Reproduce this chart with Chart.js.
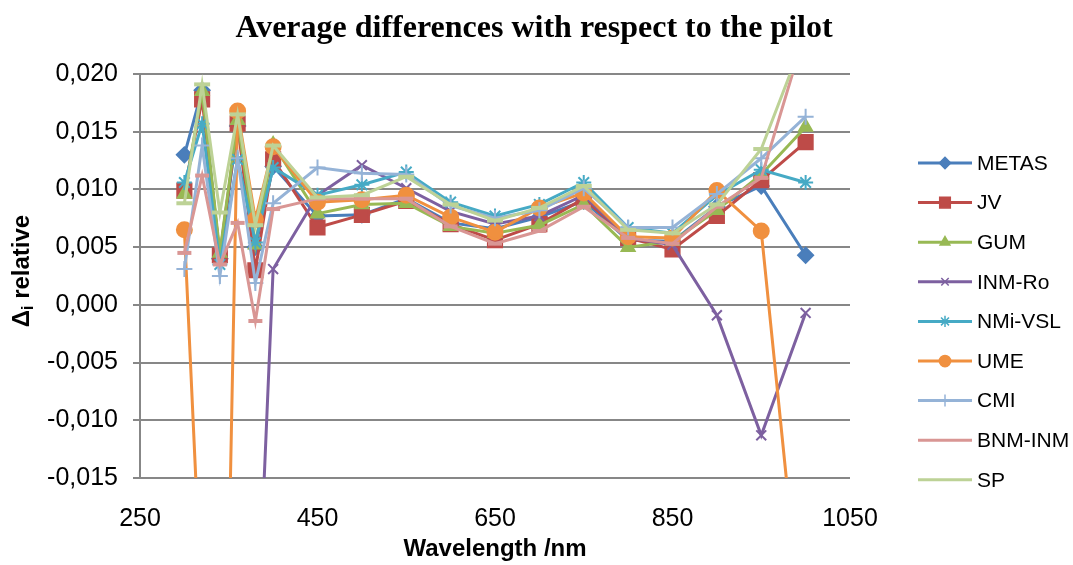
<!DOCTYPE html>
<html>
<head>
<meta charset="utf-8">
<script src="https://cdn.jsdelivr.net/npm/chart.js@4.4.0/dist/chart.umd.min.js"></script>
<style>
  html, body { margin: 0; padding: 0; background: #fff; }
</style>
</head>
<body>
<canvas id="chart" width="1073" height="565"></canvas>
<script>
// wavelengths (nm) of the measurement points
const wavelengths = [300, 320, 340, 360, 380, 400, 450, 500, 550, 600, 650, 700, 750, 800, 850, 900, 950, 1000];

// relative differences
const metas  = [0.0130, 0.0186, 0.0040, 0.0155, 0.0050, 0.0120, 0.0077, 0.0078, 0.0092, 0.0071, 0.0066, 0.0076, 0.0090, 0.0056, 0.0055, 0.0085, 0.0103, 0.0043];
const jv     = [0.0099, 0.0178, 0.0043, 0.0157, 0.0030, 0.0126, 0.0067, 0.0078, 0.0090, 0.0070, 0.0056, 0.0070, 0.0092, 0.0058, 0.0048, 0.0077, 0.0108, 0.0141];
const gum    = [0.0096, 0.0185, 0.0045, 0.0160, 0.0052, 0.0139, 0.0079, 0.0087, 0.0088, 0.0068, 0.0062, 0.0069, 0.0087, 0.0050, 0.0055, 0.0082, 0.0113, 0.0154];
const inmRo  = [null, null, null, null, -0.0330, 0.0031, 0.0095, 0.0121, 0.0101, 0.0081, 0.0070, 0.0077, 0.0095, 0.0058, 0.0052, -0.0009, -0.0113, -0.0007];
const nmiVsl = [0.0106, 0.0157, 0.0035, 0.0126, 0.0054, 0.0119, 0.0095, 0.0104, 0.0115, 0.0089, 0.0077, 0.0087, 0.0106, 0.0067, 0.0062, 0.0095, 0.0117, 0.0106];
const ume    = [0.0065, -0.0270, -0.0620, 0.0168, 0.0074, 0.0137, 0.0089, 0.0091, 0.0095, 0.0076, 0.0063, 0.0084, 0.0097, 0.0059, 0.0058, 0.0099, 0.0064, -0.0315];
const cmi    = [0.0031, 0.0138, 0.0025, 0.0127, 0.0019, 0.0088, 0.0119, 0.0114, 0.0113, 0.0086, 0.0075, 0.0082, 0.0101, 0.0067, 0.0067, 0.0096, 0.0127, 0.0163];
const bnmInm = [0.0045, 0.0112, 0.0035, 0.0071, -0.0014, 0.0083, 0.0092, 0.0092, 0.0092, 0.0068, 0.0053, 0.0064, 0.0085, 0.0058, 0.0053, 0.0085, 0.0110, 0.0238];
const sp     = [0.0088, 0.0191, 0.0080, 0.0165, 0.0069, 0.0138, 0.0093, 0.0095, 0.0111, 0.0087, 0.0073, 0.0084, 0.0103, 0.0065, 0.0062, 0.0087, 0.0135, 0.0235];

// axis ticks
const xTicks = [250, 450, 650, 850, 1050];
const yTicks = [-0.015, -0.010, -0.005, 0.000, 0.005, 0.010, 0.015, 0.020];

const series = [
  { label: "METAS",   data: metas,  color: "#4a7ebb", style: "rectRot",  r: 7.5 },
  { label: "JV",      data: jv,     color: "#be4b48", style: "rect",     r: 10 },
  { label: "GUM",     data: gum,    color: "#98b954", style: "triangle", r: 7.5 },
  { label: "INM-Ro",  data: inmRo,  color: "#7d60a0", style: "crossRot", r: 7 },
  { label: "NMi-VSL", data: nmiVsl, color: "#46aac5", style: "star",     r: 7.5 },
  { label: "UME",     data: ume,    color: "#f0903f", style: "circle",   r: 7.5 },
  { label: "CMI",     data: cmi,    color: "#95b3d7", style: "cross",    r: 8 },
  { label: "BNM-INM", data: bnmInm, color: "#d99694", style: "line",     r: 7 },
  { label: "SP",      data: sp,     color: "#bdd296", style: "line",     r: 8 },
];

const fmt = (v) => (Math.abs(v) < 1e-9 ? 0 : v).toFixed(3).replace(".", ",");
const sans = "'Liberation Sans', Arial, sans-serif";

// title, y-axis title and the legend drawn by hand
const extras = {
  id: "extras",
  afterDraw(chart) {
    const ctx = chart.ctx;
    ctx.save();
    ctx.fillStyle = "#000";
    ctx.textBaseline = "middle";

    // main title, centred on the whole canvas
    ctx.font = "bold 32px 'Liberation Serif', 'Times New Roman', serif";
    ctx.textAlign = "center";
    ctx.fillText("Average differences with respect to the pilot", 534, 29);

    // y axis title with subscript
    ctx.save();
    ctx.translate(22, 271);
    ctx.rotate(-Math.PI / 2);
    ctx.textAlign = "left";
    const big = "bold 24px " + sans;
    const small = "bold 16px " + sans;
    ctx.font = big;
    const wD = ctx.measureText("\u0394").width;
    const wR = ctx.measureText(" relative").width;
    ctx.font = small;
    const wI = ctx.measureText("i").width;
    let x = -(wD + wI + wR) / 2;
    ctx.font = big;
    ctx.fillText("\u0394", x, 0);
    x += wD;
    ctx.font = small;
    ctx.fillText("i", x, 7);
    x += wI;
    ctx.font = big;
    ctx.fillText(" relative", x, 0);
    ctx.restore();

    // legend
    ctx.font = "21px " + sans;
    ctx.textAlign = "left";
    series.forEach((s, i) => {
      const y = 163 + i * 39.6;
      ctx.strokeStyle = s.color;
      ctx.fillStyle = s.color;
      ctx.lineWidth = 3;
      ctx.beginPath();
      ctx.moveTo(918, y);
      ctx.lineTo(972, y);
      ctx.stroke();
      if (s.style !== "line" && Chart.helpers && Chart.helpers.drawPoint) {
        ctx.lineWidth = 1.5;
        Chart.helpers.drawPoint(ctx, { pointStyle: s.style, radius: s.r * 0.75, rotation: 0, borderWidth: 1.5 }, 945, y);
      }
      ctx.fillStyle = "#000";
      ctx.fillText(s.label, 977, y + 1);
    });
    ctx.restore();
  }
};

new Chart(document.getElementById("chart"), {
  type: "line",
  data: {
    datasets: series.map((s, i) => ({
      label: s.label,
      data: wavelengths.map((w, k) => ({ x: w, y: s.data[k] })),
      borderColor: s.color,
      backgroundColor: s.color,
      pointBackgroundColor: s.color,
      pointBorderColor: s.color,
      borderWidth: 3,
      pointStyle: s.style,
      pointRadius: s.r,
      pointBorderWidth: s.style === "line" ? 4 : 2,
      tension: 0,
      fill: false,
      spanGaps: false,
      order: series.length - i,
    })),
  },
  options: {
    responsive: false,
    animation: false,
    layout: { padding: { left: 0, right: 223, top: 74, bottom: 0 } },
    plugins: {
      legend: { display: false },
      title: { display: false },
      tooltip: { enabled: false },
    },
    scales: {
      x: {
        type: "linear",
        min: 250,
        max: 1050,
        afterBuildTicks: (scale) => { scale.ticks = xTicks.map((v) => ({ value: v })); },
        afterFit: (scale) => { scale.height = 87; },
        grid: { display: false },
        border: { display: false },
        ticks: {
          color: "#000",
          padding: 18,
          font: { family: sans, size: 25 },
          callback: (v) => String(v),
        },
        title: {
          display: true,
          text: "Wavelength /nm",
          color: "#000",
          font: { family: sans, size: 24, weight: "bold" },
          padding: { top: 0, bottom: 1 },
        },
      },
      y: {
        type: "linear",
        min: -0.015,
        max: 0.020,
        afterBuildTicks: (scale) => { scale.ticks = yTicks.map((v) => ({ value: v })); },
        afterFit: (scale) => { scale.width = 140; },
        grid: { color: "#878787", lineWidth: 2, tickLength: 7, drawTicks: true },
        border: { display: true, color: "#878787", width: 2 },
        ticks: {
          color: "#000",
          padding: 15,
          font: { family: sans, size: 25 },
          callback: (v) => fmt(v),
        },
      },
    },
  },
  plugins: [extras],
});
</script>
</body>
</html>
